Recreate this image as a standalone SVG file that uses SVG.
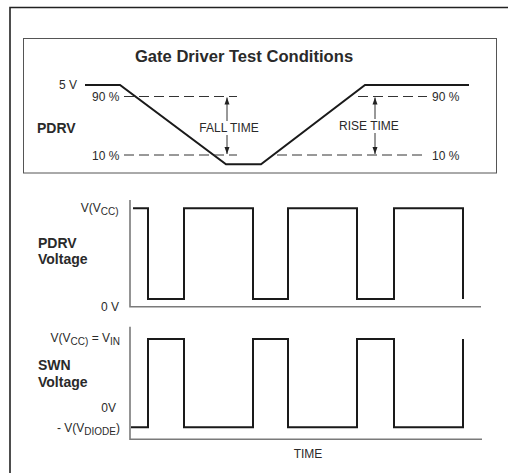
<svg xmlns="http://www.w3.org/2000/svg" width="508" height="473" viewBox="0 0 508 473">
<style>
text{font-family:"Liberation Sans",Arial,sans-serif;fill:#2a2a2a;font-size:12px}
.b{font-weight:bold;font-size:14px}
.t{font-weight:bold;font-size:16.6px}
.sub{font-size:10px}
.wave{fill:none;stroke:#1a1a1a;stroke-width:2;stroke-linejoin:miter}
.axis{fill:none;stroke:#7a7a7a;stroke-width:1.6}
.dash{fill:none;stroke:#333;stroke-width:1;stroke-dasharray:10,5}
.arr{stroke:#333;stroke-width:1}
</style>
<defs>
<marker id="ah" markerWidth="8" markerHeight="8" refX="7" refY="4" orient="auto" markerUnits="userSpaceOnUse">
<path d="M0,1.5 L7,4 L0,6.5 Z" fill="#222"/>
</marker>
</defs>
<rect width="508" height="473" fill="#fff"/>
<path d="M10,473 V7.5 H508" fill="none" stroke="#222" stroke-width="1.6"/>

<g id="test-conditions">
<rect x="23.5" y="38.5" width="473" height="134.5" fill="none" stroke="#555" stroke-width="1"/>
<text class="t" x="244" y="62" text-anchor="middle">Gate Driver Test Conditions</text>
<text x="77" y="89" text-anchor="end">5 V</text>
<text x="92" y="100.5">90 %</text>
<text x="92" y="159.5">10 %</text>
<text x="432" y="100.5">90 %</text>
<text x="432" y="159.5">10 %</text>
<text class="b" x="37" y="133">PDRV</text>
<path class="wave" d="M85,85 H120 L226,164.3 H261 L365,85 H469"/>
<path class="dash" d="M124,96.5 H237 M358,96.5 H427 M124,155 H237 M277,155 H427"/>
<text x="199.3" y="131.5">FALL TIME</text>
<text x="339" y="129.5">RISE TIME</text>
</g>

<g id="connectors">
<line class="arr" x1="227" y1="121" x2="227" y2="97.5" marker-end="url(#ah)"/>
<line class="arr" x1="227" y1="135" x2="227" y2="154" marker-end="url(#ah)"/>
<line class="arr" x1="375" y1="119" x2="375" y2="97.5" marker-end="url(#ah)"/>
<line class="arr" x1="375" y1="133" x2="375" y2="154" marker-end="url(#ah)"/>
</g>

<g id="pdrv-voltage">
<path class="axis" d="M130,200 V306.7 H481"/>
<path class="wave" d="M133,208.3 H148 V299 H184 V208.3 H253 V299 H288 V208.3 H357 V299 H394 V208.3 H463 V299"/>
<text x="118.5" y="212" text-anchor="end">V(V<tspan class="sub" dy="3">CC)</tspan></text>
<text class="b" x="38" y="248">PDRV</text>
<text class="b" x="38" y="264">Voltage</text>
<text x="119" y="310.5" text-anchor="end">0 V</text>
</g>

<g id="swn-voltage">
<path class="axis" d="M130,326.7 V439.3 H482"/>
<path class="wave" d="M131,427.3 H148 V339 H184 V427.3 H253 V339 H288 V427.3 H357 V339 H394 V427.3 H463 V339"/>
<text x="120" y="341.5" text-anchor="end">V(V<tspan class="sub" dy="3">CC)</tspan><tspan dy="-3"> = V</tspan><tspan class="sub" dy="3">IN</tspan></text>
<text class="b" x="38" y="369.5">SWN</text>
<text class="b" x="38" y="386.5">Voltage</text>
<text x="116" y="411.5" text-anchor="end">0V</text>
<text x="120" y="431.5" text-anchor="end">- V(V<tspan class="sub" dy="3">DIODE</tspan><tspan dy="-3">)</tspan></text>
<text x="308" y="457.5" text-anchor="middle">TIME</text>
</g>
</svg>
